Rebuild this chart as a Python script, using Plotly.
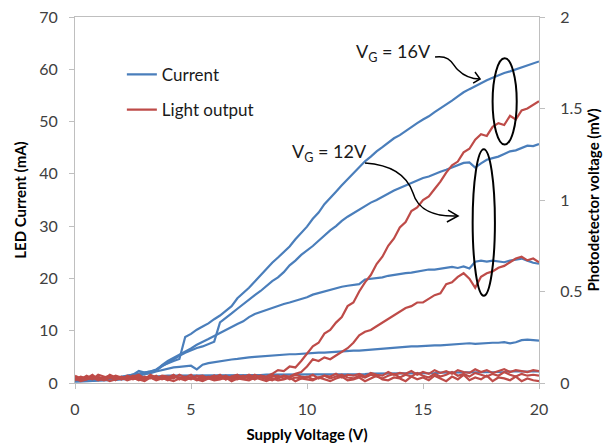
import plotly.graph_objects as go

# Supply-voltage sweep (V)
supply_v = [round(0.25 * i, 2) for i in range(81)]

# LED current (mA) for the five gate-voltage settings, highest first
current_a = [0.5, 0.6, 0.5, 0.7, 0.8, 0.7, 0.9, 1.0, 1.1, 1.4,
             1.6, 2.3, 2.0, 2.2, 2.6, 3.3, 3.8, 4.2, 4.6, 8.8,
             9.4, 10.2, 10.8, 11.4, 12.2, 12.9, 13.8, 14.7, 16.2, 17.2,
             18.2, 19.4, 20.6, 21.9, 23.0, 24.0, 25.0, 26.1, 27.5, 28.6,
             29.9, 31.4, 32.6, 34.2, 35.3, 36.6, 37.8, 39.0, 40.1, 41.2,
             42.4, 43.3, 44.3, 45.1, 45.9, 46.8, 47.4, 48.2, 49.0, 49.7,
             50.4, 51.0, 51.8, 52.5, 53.3, 54.0, 54.8, 55.6, 56.2, 56.8,
             57.4, 57.9, 58.4, 58.9, 59.3, 59.6, 60.0, 60.3, 60.8, 61.2,
             61.5]
current_b = [0.6, 0.5, 0.7, 0.6, 0.8, 0.9, 0.8, 1.0, 1.2, 1.3,
             1.5, 1.7, 1.9, 2.1, 2.4, 3.2, 3.9, 4.6, 5.2, 5.8,
             6.3, 6.7, 7.0, 7.4, 7.9, 11.6, 12.4, 13.3, 14.2, 15.1,
             16.0, 16.8, 17.6, 18.6, 19.5, 20.2, 21.2, 22.5, 23.4, 24.5,
             25.3, 26.2, 27.2, 28.3, 29.2, 30.0, 31.0, 31.8, 32.5, 33.2,
             33.9, 34.5, 35.0, 35.6, 36.3, 36.8, 37.3, 37.8, 38.3, 38.8,
             39.2, 39.5, 40.0, 40.4, 40.8, 41.2, 41.6, 42.1, 42.2, 41.2,
             42.0, 42.7, 43.0, 43.3, 43.8, 44.3, 44.5, 44.9, 45.4, 45.3,
             45.7]
current_c = [0.4, 0.5, 0.5, 0.6, 0.7, 0.7, 0.8, 0.9, 1.0, 1.2,
             1.4, 1.6, 1.8, 2.0, 2.4, 3.4, 4.2, 4.8, 5.3, 5.9,
             6.6, 7.3, 7.8, 8.4, 9.0, 9.6, 10.1, 10.7, 11.3, 11.8,
             12.6, 13.2, 13.6, 14.0, 14.4, 14.8, 15.1, 15.4, 15.7, 16.0,
             16.4, 16.9, 17.2, 17.5, 17.9, 18.1, 18.4, 18.6, 18.8, 18.9,
             19.8, 19.9, 20.0, 20.2, 20.5, 20.7, 20.8, 21.0, 21.1, 21.3,
             21.5, 21.7, 21.7, 21.9, 22.1, 22.2, 22.0, 22.3, 21.9, 23.2,
             23.4, 23.2, 23.4, 23.3, 23.1, 23.4, 23.6, 23.8, 23.4, 23.0,
             22.8]
current_d = [0.3, 0.3, 0.4, 0.4, 0.5, 0.5, 0.6, 0.7, 0.8, 1.0,
             1.2, 1.4, 1.6, 1.9, 2.2, 2.5, 2.8, 3.0, 3.1, 3.2,
             3.3, 2.6, 3.5, 3.8, 4.0, 4.2, 4.3, 4.5, 4.6, 4.8,
             4.9, 5.0, 5.1, 5.2, 5.3, 5.3, 5.4, 5.5, 5.5, 5.6,
             5.6, 5.7, 5.8, 5.8, 5.9, 6.0, 6.0, 6.1, 6.2, 6.2,
             6.3, 6.4, 6.5, 6.5, 6.6, 6.7, 6.8, 6.9, 7.0, 7.0,
             7.1, 7.2, 7.2, 7.2, 7.3, 7.4, 7.4, 7.5, 7.6, 7.5,
             7.6, 7.7, 7.7, 7.7, 7.8, 7.6, 7.8, 8.2, 8.3, 8.2,
             8.1]
current_e = [0.3, 0.3, 0.4, 0.4, 0.5, 0.5, 0.6, 0.6, 0.7, 0.8,
             0.9, 1.0, 1.1, 1.2, 1.3, 1.3, 1.4, 1.4, 1.4, 1.5,
             1.5, 1.5, 1.5, 1.5, 1.5, 1.5, 1.5, 1.5, 1.5, 1.5,
             1.5, 1.5, 1.5, 1.6, 1.6, 1.6, 1.6, 1.6, 1.6, 1.6,
             1.6, 1.6, 1.6, 1.7, 1.7, 1.7, 1.7, 1.7, 1.7, 1.7,
             1.7, 1.8, 1.8, 1.8, 1.8, 1.8, 1.8, 1.9, 1.9, 1.9,
             1.9, 1.9, 1.9, 2.0, 2.0, 2.0, 2.0, 2.0, 2.0, 2.1,
             2.1, 2.1, 2.1, 2.1, 2.1, 2.2, 2.2, 2.2, 2.2, 2.2,
             2.2]

# Photodetector voltage (mV) for the same five settings
light_a = [0.030, 0.020, 0.040, 0.025, 0.035, 0.020, 0.045, 0.030, 0.020, 0.040,
           0.030, 0.015, 0.035, 0.025, 0.040, 0.020, 0.030, 0.045, 0.020, 0.035,
           0.025, 0.040, 0.020, 0.030, 0.040, 0.025, 0.035, 0.020, 0.040, 0.030,
           0.045, 0.030, 0.040, 0.035, 0.050, 0.070, 0.065, 0.090, 0.085, 0.120,
           0.160, 0.200, 0.220, 0.270, 0.290, 0.330, 0.360, 0.420, 0.440, 0.500,
           0.550, 0.590, 0.650, 0.690, 0.750, 0.790, 0.850, 0.880, 0.940, 0.960,
           1.000, 1.020, 1.060, 1.100, 1.150, 1.190, 1.210, 1.260, 1.280, 1.330,
           1.360, 1.350, 1.400, 1.420, 1.410, 1.460, 1.440, 1.490, 1.500, 1.520,
           1.540]
light_b = [0.020, 0.035, 0.025, 0.045, 0.020, 0.030, 0.040, 0.015, 0.035, 0.025,
           0.040, 0.030, 0.020, 0.045, 0.030, 0.035, 0.020, 0.040, 0.025, 0.030,
           0.045, 0.020, 0.035, 0.025, 0.040, 0.030, 0.020, 0.035, 0.045, 0.025,
           0.035, 0.020, 0.040, 0.030, 0.045, 0.025, 0.040, 0.035, 0.050, 0.060,
           0.090, 0.130, 0.120, 0.140, 0.130, 0.150, 0.170, 0.190, 0.220, 0.260,
           0.280, 0.290, 0.310, 0.330, 0.350, 0.370, 0.390, 0.410, 0.420, 0.440,
           0.440, 0.460, 0.480, 0.490, 0.540, 0.550, 0.580, 0.600, 0.570, 0.520,
           0.580, 0.600, 0.610, 0.630, 0.640, 0.660, 0.680, 0.690, 0.670, 0.680,
           0.660]
light_c = [0.040, 0.025, 0.030, 0.020, 0.045, 0.035, 0.025, 0.040, 0.030, 0.020,
           0.035, 0.045, 0.025, 0.030, 0.020, 0.040, 0.035, 0.025, 0.045, 0.030,
           0.020, 0.035, 0.040, 0.025, 0.030, 0.045, 0.020, 0.035, 0.030, 0.040,
           0.025, 0.045, 0.030, 0.020, 0.035, 0.040, 0.025, 0.030, 0.045, 0.035,
           0.030, 0.045, 0.025, 0.040, 0.035, 0.050, 0.030, 0.045, 0.040, 0.050,
           0.035, 0.055, 0.045, 0.040, 0.060, 0.045, 0.055, 0.050, 0.065, 0.045,
           0.060, 0.050, 0.070, 0.055, 0.065, 0.050, 0.070, 0.060, 0.055, 0.075,
           0.060, 0.070, 0.055, 0.065, 0.075, 0.060, 0.070, 0.065, 0.060, 0.070,
           0.065]
light_d = [0.015, 0.030, 0.020, 0.035, 0.025, 0.015, 0.030, 0.035, 0.020, 0.030,
           0.020, 0.035, 0.015, 0.040, 0.025, 0.030, 0.015, 0.035, 0.030, 0.020,
           0.030, 0.015, 0.025, 0.035, 0.020, 0.030, 0.040, 0.025, 0.020, 0.035,
           0.030, 0.020, 0.035, 0.025, 0.015, 0.030, 0.040, 0.020, 0.030, 0.025,
           0.035, 0.020, 0.030, 0.040, 0.025, 0.035, 0.045, 0.030, 0.025, 0.040,
           0.030, 0.045, 0.035, 0.025, 0.040, 0.050, 0.030, 0.045, 0.035, 0.055,
           0.040, 0.030, 0.050, 0.035, 0.045, 0.060, 0.040, 0.050, 0.035, 0.055,
           0.045, 0.035, 0.050, 0.040, 0.060, 0.045, 0.035, 0.050, 0.040, 0.045,
           0.040]
light_e = [0.025, 0.010, 0.020, 0.030, 0.015, 0.025, 0.010, 0.020, 0.030, 0.015,
           0.025, 0.020, 0.010, 0.030, 0.015, 0.025, 0.020, 0.010, 0.025, 0.015,
           0.030, 0.020, 0.010, 0.025, 0.015, 0.020, 0.030, 0.010, 0.025, 0.020,
           0.015, 0.030, 0.020, 0.010, 0.025, 0.015, 0.020, 0.030, 0.010, 0.025,
           0.020, 0.015, 0.030, 0.020, 0.010, 0.025, 0.035, 0.015, 0.020, 0.030,
           0.010, 0.025, 0.040, 0.020, 0.015, 0.030, 0.025, 0.010, 0.035, 0.020,
           0.030, 0.015, 0.040, 0.025, 0.010, 0.035, 0.020, 0.045, 0.015, 0.030,
           0.020, 0.040, 0.010, 0.030, 0.025, 0.015, 0.035, 0.010, 0.025, 0.015,
           0.010]

x_ticks = [0, 5, 10, 15, 20]
y_ticks = [0, 10, 20, 30, 40, 50, 60, 70]
y2_ticks = [0, 0.5, 1, 1.5, 2]

BLUE = "#4a7ebb"
RED = "#be4b48"
AXIS = "#bfbfbf"
FONT = "Lato, 'Open Sans', sans-serif"
TICK_FONT = dict(family=FONT, size=16, color="#404040")
TITLE_FONT = dict(family=FONT, size=15, color="#000000")

fig = go.Figure()

for i, ys in enumerate([current_a, current_b, current_c, current_d, current_e]):
    fig.add_trace(go.Scatter(
        x=supply_v, y=ys, mode="lines", name="Current",
        legendgroup="current", showlegend=(i == 0),
        line=dict(color=BLUE, width=2.2), yaxis="y"))

for i, ys in enumerate([light_a, light_b, light_c, light_d, light_e]):
    fig.add_trace(go.Scatter(
        x=supply_v, y=ys, mode="lines", name="Light output",
        legendgroup="light", showlegend=(i == 0),
        line=dict(color=RED, width=2.2), yaxis="y2"))

# Ellipses marking the curve pairs for each gate voltage
shapes = [
    dict(type="circle", xref="x", yref="y", x0=18.0, x1=19.04, y0=45.6, y1=62.1,
         line=dict(color="black", width=2)),
    dict(type="circle", xref="x", yref="y", x0=17.14, x1=18.1, y0=16.7, y1=44.7,
         line=dict(color="black", width=2)),
    # curved arrow for VG = 16V
    dict(type="path", xref="x", yref="y",
         path="M 15.52,62.34 C 16.25,62.73 16.25,60.81 16.51,59.86 "
              "C 16.77,58.71 17.03,58.14 17.46,58.14",
         line=dict(color="black", width=1.5)),
    dict(type="path", xref="x", yref="y",
         path="M 17.24,59.48 L 17.46,58.14 L 17.16,57.36",
         line=dict(color="black", width=1.5)),
    # curved arrow for VG = 12V
    dict(type="path", xref="x", yref="y",
         path="M 12.5,42.07 C 13.79,41.69 14.35,39.2 14.57,36.34 "
              "C 14.78,33.08 15.52,31.75 16.51,31.94",
         line=dict(color="black", width=1.5)),
    dict(type="path", xref="x", yref="y",
         path="M 16.08,33.08 L 16.51,31.94 L 16.03,30.79",
         line=dict(color="black", width=1.5)),
]

annotations = [
    dict(x=13.73, y=63.3, xref="x", yref="y", text="V<sub>G</sub> = 16V",
         showarrow=False, font=dict(family=FONT, size=18, color="#1a1a1a")),
    dict(x=10.95, y=44.0, xref="x", yref="y", text="V<sub>G</sub> = 12V",
         showarrow=False, font=dict(family=FONT, size=18, color="#1a1a1a")),
]

axis_common = dict(showline=True, linecolor=AXIS, linewidth=1, ticks="outside",
                   ticklen=5, tickcolor=AXIS, showgrid=False, zeroline=False,
                   tickfont=TICK_FONT, automargin=False)

fig.update_layout(
    width=612, height=444,
    margin=dict(l=75, r=73, t=17, b=61),
    paper_bgcolor="white", plot_bgcolor="white",
    font=dict(family=FONT),
    showlegend=True,
    legend=dict(x=0.101, y=0.891, xanchor="left", yanchor="top",
                bgcolor="rgba(0,0,0,0)", font=dict(family=FONT, size=17, color="#1a1a1a"),
                traceorder="grouped", tracegroupgap=10),
    xaxis=dict(range=[0, 20], tickvals=x_ticks, mirror=True,
               ticklabelstandoff=7,
               title=dict(text="<b>Supply Voltage (V)</b>", font=TITLE_FONT, standoff=12),
               **axis_common),
    yaxis=dict(range=[0, 70], tickvals=y_ticks, ticklabelstandoff=8,
               title=dict(text="<b>LED Current (mA)</b>", font=TITLE_FONT, standoff=8),
               **axis_common),
    yaxis2=dict(range=[0, 2], tickvals=y2_ticks, overlaying="y", side="right",
                ticklabelstandoff=12,
                title=dict(text="<b>Photodetector voltage (mV)</b>", font=TITLE_FONT, standoff=6),
                **axis_common),
    shapes=shapes,
    annotations=annotations,
)

fig.write_html("out.html")
